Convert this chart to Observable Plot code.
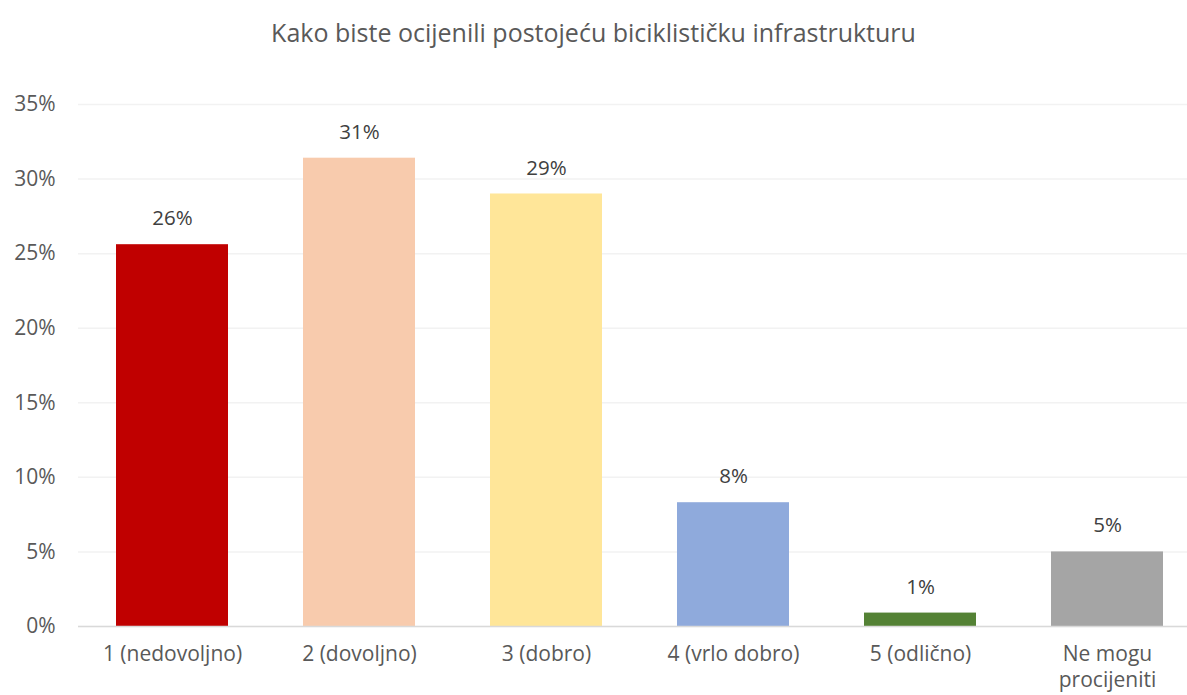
<!DOCTYPE html>
<html>
<head>
<meta charset="utf-8">
<script src="https://cdn.jsdelivr.net/npm/d3@7"></script>
<script src="https://cdn.jsdelivr.net/npm/@observablehq/plot@0.6"></script>
<style>
  html, body { margin: 0; padding: 0; background: #fff; }
  #title { height: 70px; box-sizing: border-box; padding-top: 15px; text-align: center; line-height: 34px;
    font-family: "Open Sans", "Liberation Sans", sans-serif; font-size: 25px; color: #595959; }
</style>
</head>
<body>
<div id="title">Kako biste ocijenili postojeću biciklističku infrastrukturu</div>
<div id="chart"></div>
<script>
const categories = ["1 (nedovoljno)", "2 (dovoljno)", "3 (dobro)", "4 (vrlo dobro)", "5 (odlično)", "Ne mogu\nprocijeniti"];
const values = [25.6, 31.4, 29.0, 8.3, 0.9, 5.0];
const valueLabels = ["26%", "31%", "29%", "8%", "1%", "5%"];
const colors = ["#C00000", "#F8CBAD", "#FFE699", "#8FAADC", "#548235", "#A5A5A5"];
const yTicks = [0, 5, 10, 15, 20, 25, 30, 35];

const data = categories.map((c, i) => ({cat: c, value: values[i], label: valueLabels[i], color: colors[i]}));

const chart = Plot.plot({
  width: 1187,
  height: 625,
  marginTop: 34,
  marginBottom: 69,
  marginLeft: 78,
  marginRight: 0,
  style: {fontFamily: "'Open Sans', 'Liberation Sans', sans-serif", fontSize: "21px", color: "#595959", background: "#fff"},
  x: {domain: categories, range: [77.6, 1200.8], paddingInner: 0.4, paddingOuter: 0.2, label: null},
  y: {domain: [0, 35], label: null},
  marks: [
    Plot.gridY(yTicks, {stroke: "#f2f2f2", strokeOpacity: 1, strokeWidth: 1.5}),
    Plot.barY(data, {x: "cat", y: "value", fill: d => d.color}),
    Plot.ruleY([0], {stroke: "#d9d9d9", strokeWidth: 1.5}),
    Plot.text(data, {x: "cat", y: "value", text: "label", dy: -26, fill: "#404040", fontSize: 20.5}),
    Plot.axisY(yTicks, {tickSize: 0, tickPadding: 23, tickFormat: d => d + "%", fontSize: 21, fill: "#595959"}),
    Plot.axisX({tickSize: 0, tickPadding: 19, lineAnchor: "top", lineHeight: 1.2, fontSize: 21, fill: "#595959", dy: -2})
  ]
});
document.getElementById("chart").appendChild(chart);
</script>
</body>
</html>
